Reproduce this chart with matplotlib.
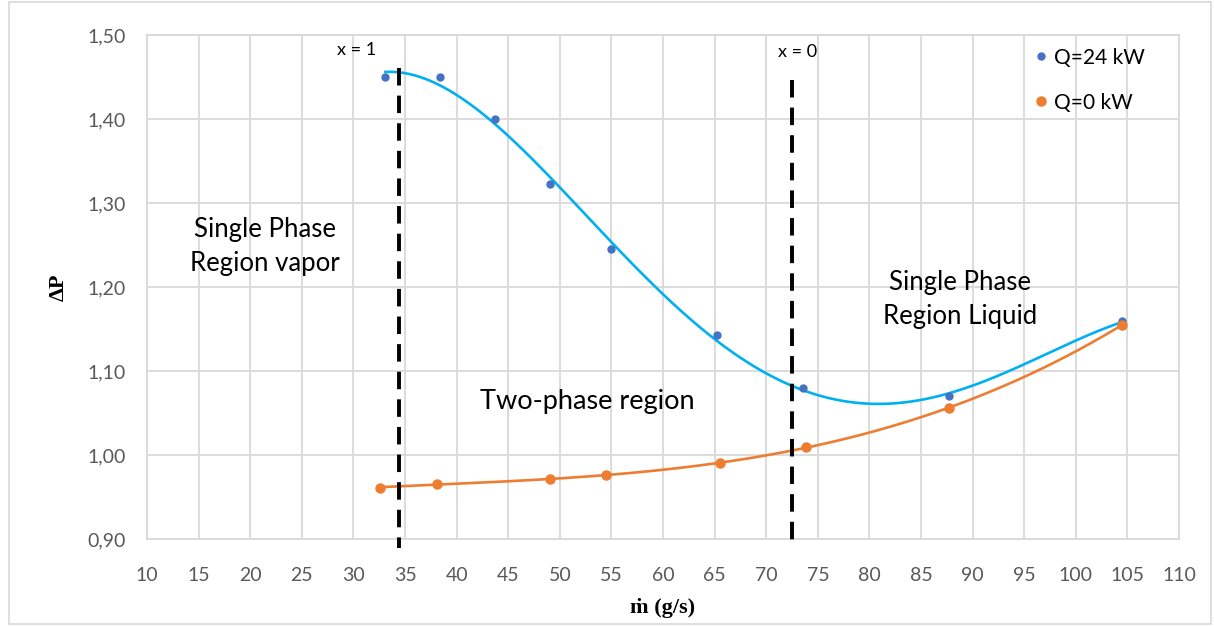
import numpy as np
import matplotlib.pyplot as plt
from matplotlib.patches import Rectangle

# -------------------------------
# Data
# -------------------------------
m_q24 = [33.1, 38.4, 43.7, 49.0, 55.0, 65.2, 73.6, 87.7, 104.5]
dp_q24 = [1.450, 1.450, 1.400, 1.323, 1.245, 1.143, 1.080, 1.070, 1.159]

m_q0 = [32.6, 38.1, 49.0, 54.5, 65.5, 73.9, 87.7, 104.5]
dp_q0 = [0.961, 0.966, 0.971, 0.976, 0.990, 1.010, 1.056, 1.155]

x_quality = [34.4, 72.5]          # x = 1 and x = 0 boundaries
x_tick_vals = list(range(10, 111, 5))
y_tick_vals = [0.90, 1.00, 1.10, 1.20, 1.30, 1.40, 1.50]

blue_pt = "#4472C4"
blue_ln = "#00B0F0"
orange = "#ED7D31"
grid_c = "#D9D9D9"
txt_c = "#595959"

plt.rcParams['font.family'] = ['Lato', 'DejaVu Sans']

fig = plt.figure(figsize=(12.14, 6.26), dpi=100)
ax = fig.add_axes([0.1211, 0.139, 0.8501, 0.805])

# -------------------------------
# Trendlines (polynomial fits)
# -------------------------------
c24 = np.polyfit(m_q24, dp_q24, 4)
xs24 = np.linspace(min(m_q24), max(m_q24), 300)
ax.plot(xs24, np.polyval(c24, xs24), color=blue_ln, lw=1.9, zorder=3)

c0 = np.polyfit(m_q0, dp_q0, 3)
xs0 = np.linspace(min(m_q0), max(m_q0), 300)
ax.plot(xs0, np.polyval(c0, xs0), color=orange, lw=1.9, zorder=3)

ax.plot(m_q24, dp_q24, 'o', color=blue_pt, ms=5, zorder=4, label="Q=24 kW")
ax.plot(m_q0, dp_q0, 'o', color=orange, ms=6.5, zorder=4, label="Q=0 kW")

# -------------------------------
# Quality boundaries + annotations
# -------------------------------
ax.plot([x_quality[0]] * 2, [1.461, 0.889], color='black', lw=2.8,
        dashes=(4.5, 2.6), zorder=5, clip_on=False)
ax.plot([x_quality[1]] * 2, [1.447, 0.898], color='black', lw=2.8,
        dashes=(4.5, 2.6), zorder=5, clip_on=False)

ax.text(30.3, 1.482, "x = 1", ha='center', va='center', fontsize=13)
ax.text(73.0, 1.480, "x = 0", ha='center', va='center', fontsize=13)
ax.text(21.4, 1.248, "Single Phase\nRegion vapor", ha='center', va='center',
        fontsize=18.5, linespacing=1.45)
ax.text(88.8, 1.185, "Single Phase\nRegion Liquid", ha='center', va='center',
        fontsize=18.5, linespacing=1.45)
ax.text(52.7, 1.064, "Two-phase region", ha='center', va='center', fontsize=19.5)

# -------------------------------
# Axes styling
# -------------------------------
ax.set_xlim(10, 110)
ax.set_ylim(0.90, 1.50)
ax.set_xticks(x_tick_vals)
ax.set_yticks(y_tick_vals)
ax.set_yticklabels([f"{v:.2f}".replace('.', ',') for v in y_tick_vals])
ax.tick_params(length=0, labelsize=14, colors=txt_c)
ax.tick_params(axis='x', pad=20)
ax.tick_params(axis='y', pad=15)
ax.grid(True, color=grid_c, lw=1.3)
ax.set_axisbelow(True)
for s in ax.spines.values():
    s.set_color(grid_c)
    s.set_linewidth(1.3)

ax.set_xlabel("ṁ (g/s)", family='Liberation Serif', fontweight='bold',
              fontsize=16, labelpad=10)
ax.set_ylabel("ΔP", family='Liberation Serif', fontweight='bold',
              fontsize=16, labelpad=14)

leg = ax.legend(loc='upper left', bbox_to_anchor=(0.836, 1.012), frameon=False,
                fontsize=15, handletextpad=0.0, labelspacing=1.2,
                handlelength=1.2)
for t in leg.get_texts():
    t.set_color('black')

# outer chart frame
fig.patches.append(Rectangle((0.0075, 0.003), 0.99, 0.994, transform=fig.transFigure,
                             fill=False, edgecolor=grid_c, lw=1.2))

plt.savefig("out.png", dpi=100)
